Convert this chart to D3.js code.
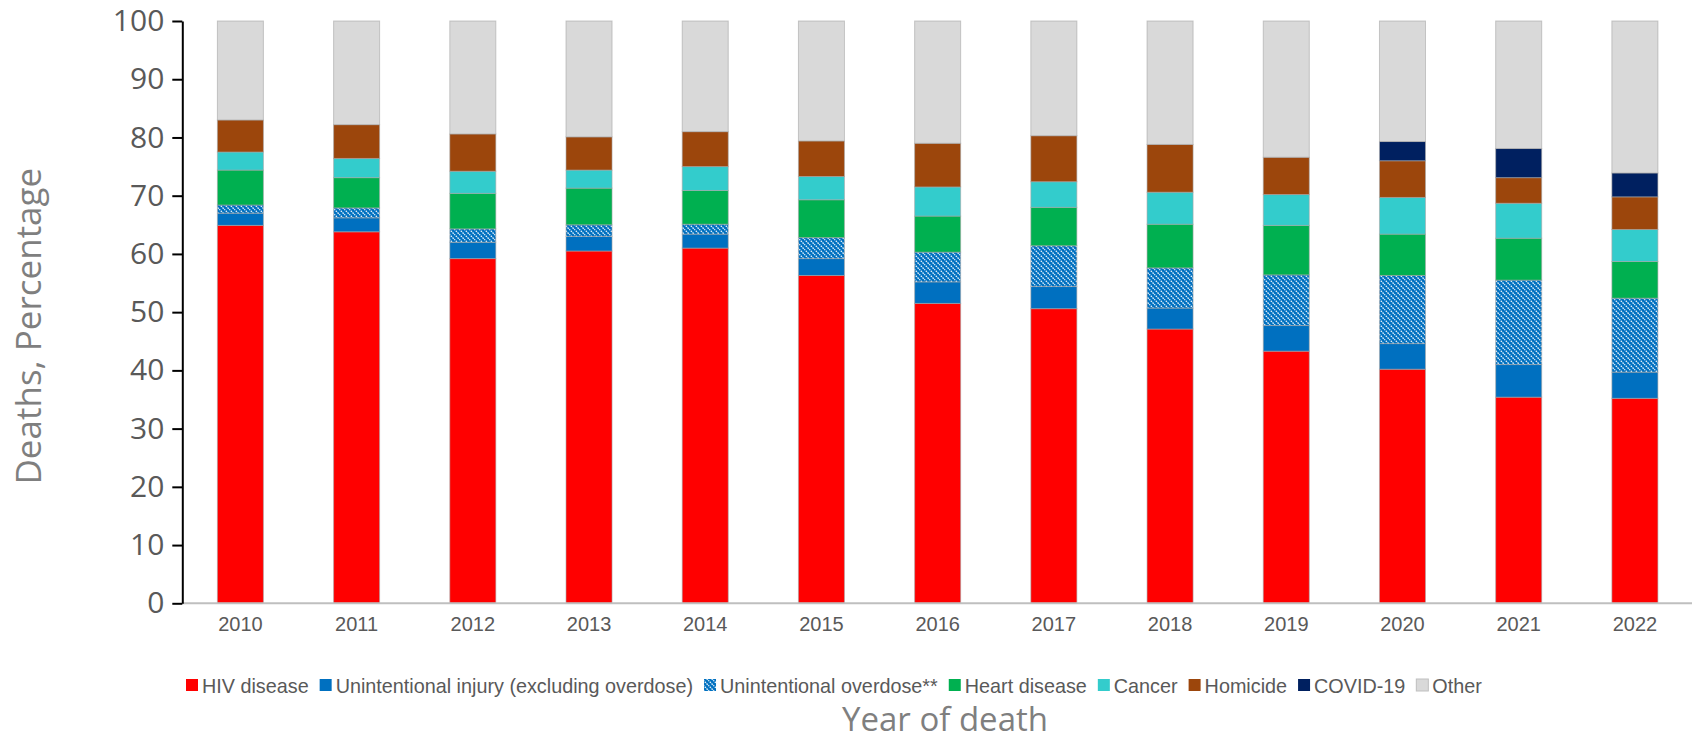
<html>
<head>
    <title>Deaths by cause, 2010-2022</title>
    <style>
        body {
            margin: 0;
            background-color: #fff;
        }
        .tick text {
            fill: #595959;
        }
        .axis--y .tick text {
            font: 30px "Open Sans", sans-serif;
        }
        .axis--x .tick text {
            font: 20px "Liberation Sans Narrow", "Liberation Sans", sans-serif;
        }
        .legend text {
            font: 19.8px "Liberation Sans Narrow", "Liberation Sans", sans-serif;
            fill: #595959;
        }
        .title {
            fill: #7f7f7f;
            font-family: "Open Sans", sans-serif;
        }
    </style>
</head>

<body>
    <div id="container"></div>
    <script src="https://d3js.org/d3.v7.min.js"></script>
    <script>
        let width = 1692,
            height = 743;

        // data (percent of deaths)
        let years = ['2010', '2011', '2012', '2013', '2014', '2015', '2016', '2017', '2018', '2019', '2020', '2021', '2022'];
        let causes = ['HIV disease', 'Unintentional injury (excluding overdose)', 'Unintentional overdose**', 'Heart disease', 'Cancer', 'Homicide', 'COVID-19', 'Other'];
        let hiv      = [64.9, 63.8, 59.2, 60.5, 61.0, 56.3, 51.5, 50.6, 47.1, 43.3, 40.2, 35.4, 35.2];
        let injury   = [2.1, 2.4, 2.8, 2.5, 2.4, 2.9, 3.7, 3.8, 3.6, 4.4, 4.4, 5.6, 4.5];
        let overdose = [1.4, 1.7, 2.3, 2.0, 1.7, 3.6, 5.1, 7.0, 6.9, 8.7, 11.7, 14.5, 12.7];
        let heart    = [6.0, 5.2, 6.1, 6.3, 5.8, 6.5, 6.2, 6.6, 7.5, 8.5, 7.1, 7.2, 6.3];
        let cancer   = [3.1, 3.3, 3.8, 3.1, 4.1, 4.0, 5.0, 4.4, 5.5, 5.3, 6.3, 6.0, 5.5];
        let homicide = [5.5, 5.8, 6.4, 5.7, 6.0, 6.1, 7.5, 7.9, 8.2, 6.4, 6.3, 4.4, 5.6];
        let covid    = [0, 0, 0, 0, 0, 0, 0, 0, 0, 0, 3.3, 5.0, 4.1];
        let other    = [17.0, 17.8, 19.4, 19.9, 19.0, 20.6, 21.0, 19.7, 21.2, 23.4, 20.7, 21.9, 26.1];
        let yTicks = [0, 10, 20, 30, 40, 50, 60, 70, 80, 90, 100];

        let series = [hiv, injury, overdose, heart, cancer, homicide, covid, other];
        let colors = ['#ff0000', '#0070c0', 'url(#hatch)', '#00b050', '#33cccc', '#9c460c', '#002060', '#d9d9d9'];

        let rows = years.map(function (yr, i) {
            let r = { year: yr };
            causes.forEach(function (c, k) { r[c] = series[k][i]; });
            return r;
        });
        let stacked = d3.stack().keys(causes)(rows);

        let svg = d3.select('#container')
            .append('svg')
            .attr('width', width)
            .attr('height', height);

        // hatch for overdose: blue with white dotted diagonals
        let pat = svg.append('defs').append('pattern')
            .attr('id', 'hatch')
            .attr('patternUnits', 'userSpaceOnUse')
            .attr('width', 5)
            .attr('height', 5);
        pat.append('rect').attr('width', 5).attr('height', 5).attr('fill', '#0070c0');
        pat.append('path')
            .attr('d', 'M-1,-1L6,6M-1,4L1,6M4,-1L6,1')
            .attr('stroke', '#e6f2fb')
            .attr('stroke-width', 1.3)
            .attr('stroke-dasharray', '1.6,0.9');

        let x = d3.scaleBand().domain(years).range([182.3, 1693]).paddingInner(0.604).paddingOuter(0.302),
            y = d3.scaleLinear().domain([0, 100]).range([603.3, 21]);

        let g = svg.append('g');

        g.selectAll('.serie')
            .data(stacked)
            .enter().append('g')
            .attr('class', 'serie')
            .attr('fill', function (d, i) { return colors[i]; })
            .selectAll('rect')
            .data(function (d) { return d; })
            .enter().append('rect')
            .attr('x', function (d) { return x(d.data.year); })
            .attr('y', function (d) { return y(d[1]); })
            .attr('width', x.bandwidth())
            .attr('height', function (d) { return y(d[0]) - y(d[1]); })
            .attr('stroke', '#a6a6a6')
            .attr('stroke-opacity', function (d) { return d[1] - d[0] > 0 ? 0.6 : 0; })
            .attr('stroke-width', 1);

        // x axis: light gray baseline, labels only
        g.append('line')
            .attr('x1', 182.3).attr('x2', 1693)
            .attr('y1', y(0)).attr('y2', y(0))
            .attr('stroke', '#bfbfbf')
            .attr('stroke-width', 2);

        g.append('g')
            .attr('class', 'axis axis--x')
            .attr('transform', 'translate(0,' + y(0) + ')')
            .call(d3.axisBottom(x).tickSize(0).tickPadding(14))
            .call(function (a) { a.select('.domain').remove(); });

        g.append('g')
            .attr('class', 'axis axis--y')
            .attr('transform', 'translate(182.3,0)')
            .call(d3.axisLeft(y).tickValues(yTicks).tickSize(10).tickSizeOuter(0).tickPadding(8))
            .call(function (a) {
                a.select('.domain').attr('stroke', '#000').attr('stroke-width', 2);
                a.selectAll('.tick line').attr('stroke', '#000').attr('stroke-width', 2);
            });

        svg.append('text')
            .attr('class', 'title')
            .attr('transform', 'translate(41,' + ((y(0) + y(100)) / 2 + 14) + ') rotate(-90)')
            .attr('text-anchor', 'middle')
            .style('font-size', '35px')
            .text('Deaths, Percentage');

        svg.append('text')
            .attr('class', 'title')
            .attr('x', 945)
            .attr('y', 731)
            .attr('text-anchor', 'middle')
            .style('font-size', '33px')
            .text('Year of death');

        // legend laid out from measured text
        let legend = svg.append('g').attr('class', 'legend');
        let lx = 186, ly = 686;
        causes.forEach(function (c, i) {
            let item = legend.append('g').attr('transform', 'translate(' + lx + ',' + ly + ')');
            item.append('rect')
                .attr('x', 0).attr('y', -7)
                .attr('width', 12).attr('height', 12)
                .attr('fill', colors[i])
                .attr('stroke', i == 7 ? '#bfbfbf' : 'none');
            let t = item.append('text')
                .attr('x', 16)
                .attr('dy', '0.35em')
                .text(c);
            lx += 16 + t.node().getComputedTextLength() + 11;
        });
    </script>
</body>

</html>
